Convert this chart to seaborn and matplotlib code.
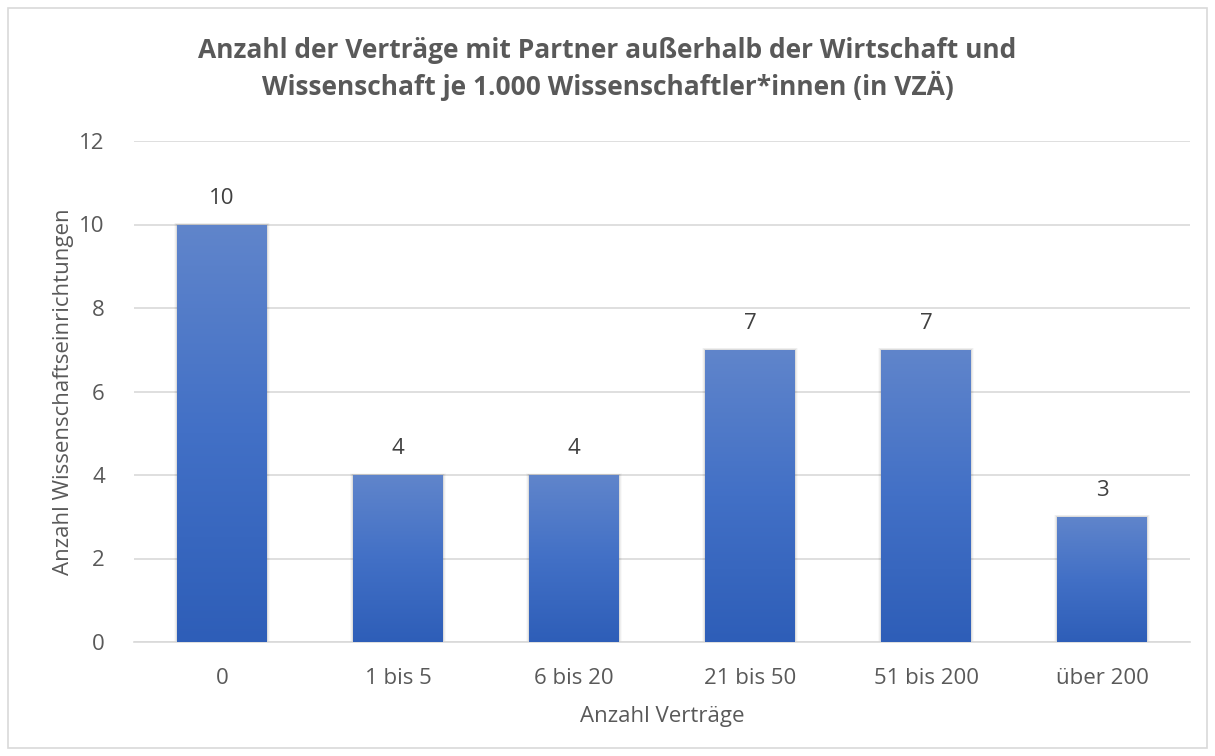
import numpy as np
import matplotlib
matplotlib.use("Agg")
import matplotlib.pyplot as plt
import seaborn as sns
import pandas as pd
from matplotlib.colors import LinearSegmentedColormap
from matplotlib.patches import Rectangle

categories = ["0", "1 bis 5", "6 bis 20", "21 bis 50", "51 bis 200", "über 200"]
values = [10, 4, 4, 7, 7, 3]
yticks = [0, 2, 4, 6, 8, 10, 12]

title = "Anzahl der Verträge mit Partner außerhalb der Wirtschaft und\nWissenschaft je 1.000 Wissenschaftler*innen (in VZÄ)"
xlabel = "Anzahl Verträge"
ylabel = "Anzahl Wissenschaftseinrichtungen"

sns.set_theme(style="white")
plt.rcParams['font.family'] = ['Open Sans', 'DejaVu Sans']
txt = "#595959"

df = pd.DataFrame({"cat": categories, "val": values})
fig = plt.figure(figsize=(12.15, 7.56), dpi=100)
ax = fig.add_axes([134/1215, 1 - 642/756, (1190-134)/1215, (642-141)/756])

sns.barplot(data=df, x="cat", y="val", color="#4472C4", width=0.51, ax=ax,
            zorder=3, linewidth=0, edgecolor="none")

cmap = LinearSegmentedColormap.from_list("g", ["#2E5EB8", "#4270C6", "#6085CB"])
grad = np.linspace(0, 1, 256).reshape(-1, 1)
for p in ax.patches:
    x0, y0 = p.get_x(), p.get_y()
    w, h = p.get_width(), p.get_height()
    # soft shadow
    for k, a in enumerate([0.07, 0.045, 0.025]):
        ax.add_patch(Rectangle((x0 - 0.006*(k+1), y0), w + 0.012*(k+1), h + 0.015*(k+1),
                               facecolor="black", alpha=a, edgecolor="none", zorder=2.5))
    im = ax.imshow(grad, extent=[x0, x0 + w, y0, y0 + h], origin="lower",
                   cmap=cmap, aspect="auto", zorder=3.5)
    im.set_clip_path(p)
    ax.text(x0 + w/2, h + 0.38, str(int(h)), ha="center", va="bottom",
            fontsize=16, color="#404040", zorder=5)

ax.set_xlim(-0.5, len(categories) - 0.5)
ax.set_ylim(0, 12)
ax.set_yticks(yticks)
ax.set_yticklabels([str(t) for t in yticks])
ax.yaxis.grid(True, color="#D9D9D9", linewidth=1.2, zorder=0)
ax.set_axisbelow(True)
for s in ["top", "right", "left"]:
    ax.spines[s].set_visible(False)
ax.spines["bottom"].set_color("#D9D9D9")
ax.spines["bottom"].set_linewidth(1.2)
ax.tick_params(axis="both", length=0, labelsize=16, labelcolor=txt)
ax.tick_params(axis="x", pad=19)
ax.tick_params(axis="y", pad=21)
ax.set_xlabel(xlabel, fontsize=16, color=txt, labelpad=12)
ax.set_ylabel(ylabel, fontsize=16, color=txt, labelpad=4)

fig.text(0.5, 1 - 69/756, title, ha="center", va="center", fontsize=19,
         fontweight="bold", color=txt, linespacing=1.25)

fig.patches.append(Rectangle((8/1215, 8/756), 1199/1215, 740/756, transform=fig.transFigure,
                             fill=False, edgecolor="#D9D9D9", linewidth=1.2))
fig.savefig("out.png", dpi=100, facecolor="white")
